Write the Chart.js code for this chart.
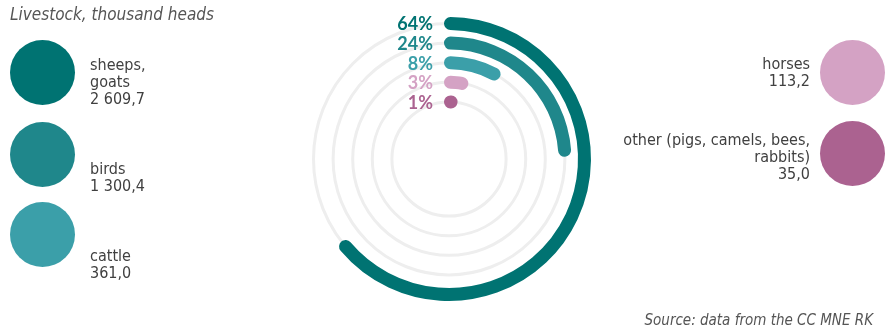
<!DOCTYPE html>
<html>
<head>
<meta charset="utf-8">
<script src="https://cdn.jsdelivr.net/npm/chart.js@4.4.1/dist/chart.umd.min.js"></script>
<style>
  html, body { margin: 0; padding: 0; background: #fff; }
  #wrap { position: relative; width: 895px; height: 331px; overflow: hidden;
          font-family: "DejaVu Sans Condensed", "DejaVu Sans", sans-serif; color: #404040; }
  #chart { position: absolute; left: 0; top: 0; }
  .txt { position: absolute; font-size: 16px; line-height: 17px; white-space: nowrap; }
  .title { left: 10px; top: 6px; font-size: 17px; font-style: italic; color: #555; }
  .source { right: 22px; top: 312px; font-size: 15px; font-style: italic; color: #555; }
  .dot { position: absolute; width: 65px; height: 65px; border-radius: 50%; }
</style>
</head>
<body>
<div id="wrap">
  <canvas id="chart" width="895" height="331"></canvas>
  <div class="txt title">Livestock, thousand heads</div>
  <div class="txt source">Source: data from the CC MNE RK</div>
</div>
<script>
const categories = [["sheeps,", "goats"], ["birds"], ["cattle"], ["horses"], ["other (pigs, camels, bees,", "rabbits)"]];
const heads = [2609.7, 1300.4, 361.0, 113.2, 35.0];
const shares = [64, 24, 8, 3, 1];
const colors = ["#007372", "#1f878b", "#3b9fa9", "#d4a2c4", "#ab6290"];

// legend layout: side, circle centre y, text top
const legendPos = [
  { side: "left", cy: 72, top: 56 },
  { side: "left", cy: 154, top: 160 },
  { side: "left", cy: 234, top: 247 },
  { side: "right", cy: 72, top: 55 },
  { side: "right", cy: 153, top: 131 }
];

function fmt(v) {
  const s = v.toFixed(1).split(".");
  return s[0].replace(/\B(?=(\d{3})+(?!\d))/g, " ") + "," + s[1];
}

const wrap = document.getElementById("wrap");
categories.forEach((lines, i) => {
  const p = legendPos[i];
  const dot = document.createElement("div");
  dot.className = "dot";
  dot.style.background = colors[i];
  dot.style.top = (p.cy - 32.5) + "px";
  const t = document.createElement("div");
  t.className = "txt";
  t.style.top = p.top + "px";
  t.innerHTML = lines.concat([fmt(heads[i])]).join("<br>");
  if (p.side === "left") {
    dot.style.left = "10px";
    t.style.left = "90px";
  } else {
    dot.style.left = "820px";
    t.style.right = "85px";
    t.style.textAlign = "right";
  }
  wrap.appendChild(dot);
  wrap.appendChild(t);
});

// rings: thin bar ring (3px) stroked with a wide round border, spacer rings between
const datasets = [];
shares.forEach((p, i) => {
  if (i > 0) {
    datasets.push({ data: [1], backgroundColor: ["rgba(0,0,0,0)"], borderWidth: 0, hoverBorderWidth: 0, weight: 16.6 / 3 });
  }
  datasets.push({
    isBar: true,
    share: p,
    data: [p, 100 - p],
    backgroundColor: [colors[i], "rgba(0,0,0,0)"],
    borderColor: [colors[i], "rgba(0,0,0,0)"],
    borderWidth: [10, 0],
    hoverBorderWidth: [10, 0],
    borderJoinStyle: "round",
    borderRadius: 1.5,
    weight: 1
  });
});

const tracks = {
  id: "tracks",
  beforeDatasetsDraw(chart) {
    const ctx = chart.ctx;
    ctx.save();
    ctx.strokeStyle = "#eeeeee";
    ctx.lineWidth = 3;
    chart.data.datasets.forEach((ds, i) => {
      if (!ds.isBar) return;
      const arc = chart.getDatasetMeta(i).data[0];
      const r = (arc.innerRadius + arc.outerRadius) / 2;
      ctx.beginPath();
      ctx.arc(arc.x, arc.y, r, 0, Math.PI * 2);
      ctx.stroke();
    });
    ctx.restore();
  },
  afterDatasetsDraw(chart) {
    const ctx = chart.ctx;
    ctx.save();
    ctx.font = "bold 18px Lato, sans-serif";
    ctx.textAlign = "right";
    ctx.textBaseline = "middle";
    let k = 0;
    chart.data.datasets.forEach((ds, i) => {
      if (!ds.isBar) return;
      const arc = chart.getDatasetMeta(i).data[0];
      const r = (arc.innerRadius + arc.outerRadius) / 2;
      ctx.fillStyle = colors[k];
      ctx.fillText(ds.share + "%", arc.x - 16, arc.y - r + 1);
      k++;
    });
    ctx.restore();
  }
};

new Chart(document.getElementById("chart"), {
  type: "doughnut",
  data: { labels: ["share", "rest"], datasets: datasets },
  options: {
    responsive: false,
    animation: false,
    events: [],
    radius: 137,
    cutout: "40.58%",
    layout: { padding: { left: 3, bottom: 13 } },
    plugins: { legend: { display: false }, tooltip: { enabled: false } }
  },
  plugins: [tracks]
});
</script>
</body>
</html>
